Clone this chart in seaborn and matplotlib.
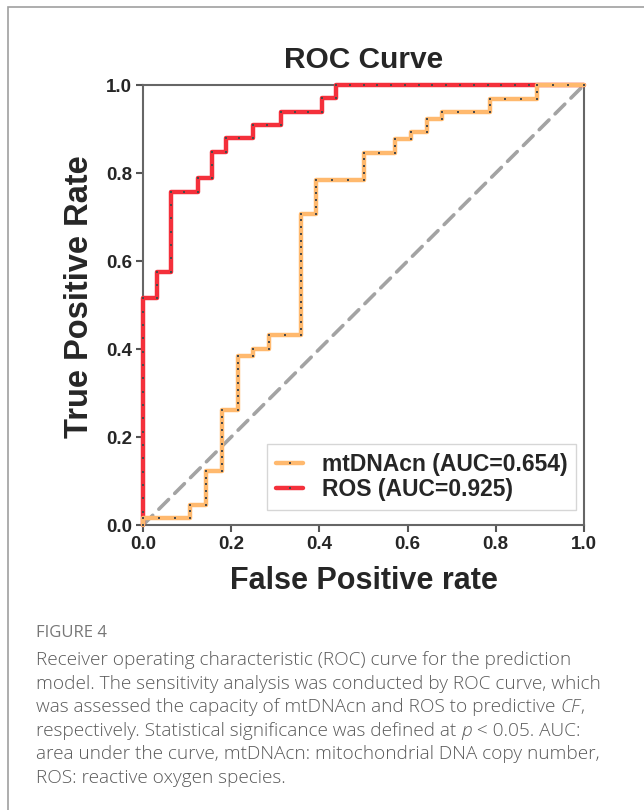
"""
ROC curves for mtDNAcn and ROS as predictors of CF (Figure 4).
"""

import numpy as np
import pandas as pd
import matplotlib
matplotlib.use('Agg')
import matplotlib.pyplot as plt
from matplotlib.patches import Rectangle
import seaborn as sns

# ROC staircases: cases ordered by score, given as runs of
# positives (step up) followed by runs of negatives (step right)
ros_up = [17, 2, 6, 1, 2, 1, 1, 1, 1, 1]
ros_right = [1, 1, 2, 1, 1, 2, 2, 3, 1, 18]
mtdna_up = [1, 2, 5, 9, 8, 1, 2, 18, 5, 4, 2, 1, 2, 1, 2, 2]
mtdna_right = [3, 1, 1, 1, 1, 1, 2, 1, 3, 2, 1, 1, 1, 3, 3, 3]

labels = ['mtDNAcn (AUC=0.654)', 'ROS (AUC=0.925)']
colors = ['#ffb96e', '#f4303b']
chance = [0.0, 1.0]
ticks = [0.0, 0.2, 0.4, 0.6, 0.8, 1.0]
tick_labels = ['0.0', '0.2', '0.4', '0.6', '0.8', '1.0']

caption_head = 'FIGURE 4'
caption_lines = [
    ['Receiver operating characteristic (ROC) curve for the prediction'],
    ['model. The sensitivity analysis was conducted by ROC curve, which'],
    ['was assessed the capacity of mtDNAcn and ROS to predictive ', '*CF', ','],
    ['respectively. Statistical significance was defined at ', '*p', ' < 0.05. AUC:'],
    ['area under the curve, mtDNAcn: mitochondrial DNA copy number,'],
    ['ROS: reactive oxygen species.'],
]


def roc_points(up_runs, right_runs):
    """Walk the ordered cases and return every ROC point (fpr, tpr)."""
    seq = []
    for u, r in zip(up_runs, right_runs):
        seq += [1] * u + [0] * r
    seq = np.array(seq)
    tp = np.concatenate([[0], np.cumsum(seq)])
    fp = np.concatenate([[0], np.cumsum(1 - seq)])
    return pd.DataFrame({'fpr': fp / fp[-1], 'tpr': tp / tp[-1]})


sns.set_style('white')
plt.rcParams['font.family'] = ['Liberation Sans', 'DejaVu Sans']

fig = plt.figure(figsize=(6.44, 8.10), dpi=100)
ax = fig.add_axes([143 / 644, 1 - 525 / 810, 441 / 644, 440 / 810])

sns.lineplot(x=chance, y=chance, ax=ax, color='#a3a3a3', lw=2.6,
             dashes=False, zorder=1)
ax.lines[-1].set_dashes((3.8, 2.4))
ax.lines[-1].set_dash_capstyle('round')

df_ros = roc_points(ros_up, ros_right)
df_mt = roc_points(mtdna_up, mtdna_right)

line_kw = dict(sort=False, estimator=None, lw=3.2, marker='s', markersize=1.6,
               markerfacecolor='#4a4a4a', markeredgewidth=0, clip_on=False)
sns.lineplot(data=df_ros, x='fpr', y='tpr', ax=ax, color=colors[1],
             label=labels[1], zorder=3, **line_kw)
sns.lineplot(data=df_mt, x='fpr', y='tpr', ax=ax, color=colors[0],
             label=labels[0], zorder=4, **line_kw)

ax.set_xlim(0, 1)
ax.set_ylim(0, 1)
ax.set_xticks(ticks)
ax.set_yticks(ticks)
ax.set_xticklabels(tick_labels, fontsize=13.5, fontweight='bold')
ax.set_yticklabels(tick_labels, fontsize=13.5, fontweight='bold')
ax.tick_params(direction='out', length=5, width=1.5, color='#555555',
               pad=3, bottom=True, left=True)
for side in ax.spines.values():
    side.set_color('#666666')
    side.set_linewidth(1.5)

ax.set_title('ROC Curve', fontsize=21.5, fontweight='bold', pad=12)
ax.set_xlabel('False Positive rate', fontsize=22, fontweight='bold', labelpad=9)
ax.set_ylabel('True Positive Rate', fontsize=23.5, fontweight='bold', labelpad=8)
ax.yaxis.label.set_y(0.52)

handles, leg_labels = ax.get_legend_handles_labels()
order = [leg_labels.index(l) for l in labels]
leg = ax.legend([handles[i] for i in order], labels, loc='lower right',
                bbox_to_anchor=(0.982, 0.034), borderaxespad=0,
                prop={'weight': 'bold', 'size': 16.5}, frameon=True,
                fancybox=False, edgecolor='#cccccc', handlelength=1.2,
                handletextpad=0.8, borderpad=0.38, labelspacing=0.1)
leg.get_frame().set_linewidth(1.0)

# page border of the figure panel
fig.add_artist(Rectangle((8 / 644, -0.1), 1.2, 1 - 7 / 810 + 0.1,
                         transform=fig.transFigure, fill=False,
                         edgecolor='#a0a0a0', lw=1.2))

cap_font = ['Open Sans', 'DejaVu Sans']
fig.text(36 / 644, 1 - 633 / 810, caption_head, family=cap_font,
         fontsize=12, color='#777777', va='center')

y_px = 660
for parts in caption_lines:
    prev = None
    for part in parts:
        style = 'normal'
        if part.startswith('*'):
            part, style = part[1:], 'italic'
        kw = dict(family=cap_font, fontsize=13.7, color='#5a5a5a',
                  weight='light', style=style, ha='left', va='bottom')
        if prev is None:
            prev = fig.text(36 / 644, 1 - (y_px + 9) / 810, part, **kw)
        else:
            prev = ax.annotate(part, xy=(1, 0), xycoords=prev,
                               annotation_clip=False, **kw)
    y_px += 23.6

fig.savefig('out.png', dpi=100)
